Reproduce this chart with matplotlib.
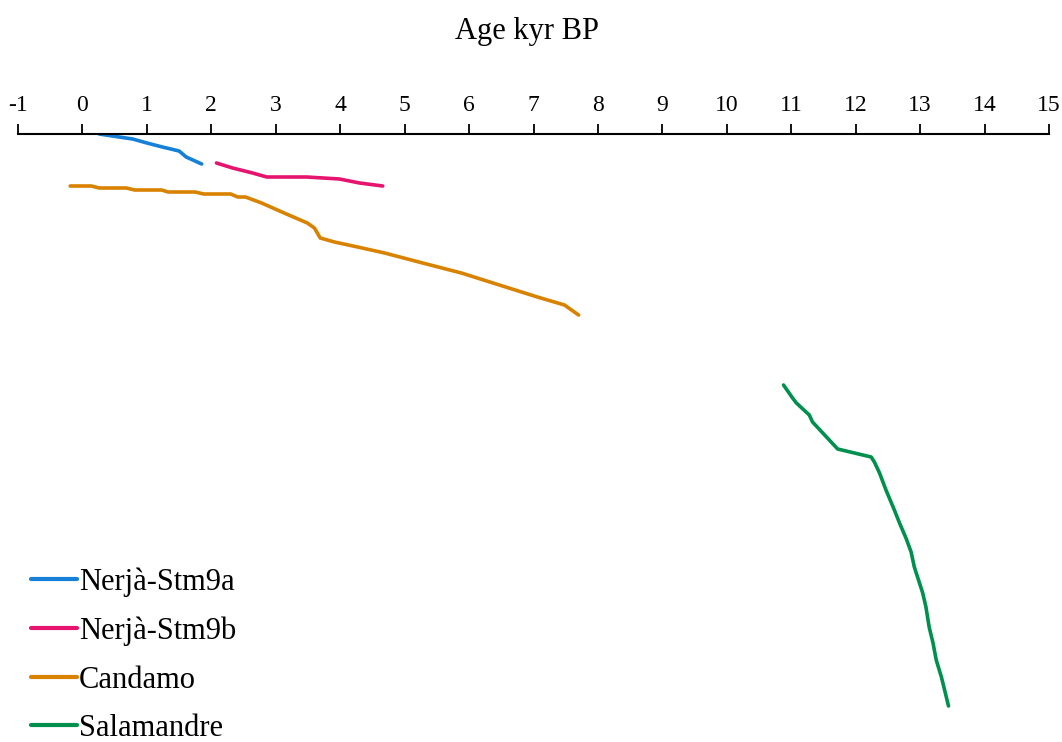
import numpy as np
import matplotlib
matplotlib.use("Agg")
import matplotlib.pyplot as plt

# age (kyr BP) vs depth (arbitrary depth units, increasing downward)
nerja_a_age = [0.26, 0.57, 0.78, 1.00, 1.24, 1.50, 1.61, 1.85]
nerja_a_depth = [0, 3, 5, 9, 13, 17, 23, 30]

nerja_b_age = [2.08, 2.33, 2.64, 2.86, 3.48, 3.99, 4.30, 4.66]
nerja_b_depth = [29, 34, 39, 43, 43, 45, 49, 52]

candamo_age = [-0.19, 0.14, 0.26, 0.68, 0.81, 1.23, 1.33, 1.75, 1.88, 2.30,
               2.41, 2.53, 2.78, 3.13, 3.49, 3.60, 3.69, 3.91, 4.27, 4.69,
               5.28, 5.88, 6.47, 7.06, 7.48, 7.70]
candamo_depth = [52, 52, 54, 54, 56, 56, 58, 58, 60, 60,
                 63, 63, 69, 79, 89, 94, 104, 108, 113, 119,
                 129, 139, 151, 163, 171, 181]

salamandre_age = [10.88, 11.02, 11.08, 11.28, 11.33, 11.72, 12.24, 12.29,
                  12.37, 12.47, 12.60, 12.68, 12.78, 12.86, 12.91, 12.99,
                  13.04, 13.09, 13.14, 13.20, 13.25, 13.33, 13.38, 13.44]
salamandre_depth = [251, 264, 269, 281, 288, 315, 323, 328,
                    339, 356, 376, 389, 404, 418, 433, 449,
                    459, 473, 493, 509, 526, 543, 556, 572]

series = [
    ("Nerjà-Stm9a", nerja_a_age, nerja_a_depth, "#1480D8"),
    ("Nerjà-Stm9b", nerja_b_age, nerja_b_depth, "#E6146E"),
    ("Candamo", candamo_age, candamo_depth, "#D98200"),
    ("Salamandre", salamandre_age, salamandre_depth, "#00904E"),
]

plt.rcParams['font.family'] = ['Liberation Serif', 'DejaVu Serif']
plt.rcParams['axes.unicode_minus'] = False

fig = plt.figure(figsize=(10.62, 7.42), dpi=100)
ax = fig.add_axes([18 / 1062, 0.0, (1049 - 18) / 1062, (742 - 134) / 742])

for name, age, depth, col in series:
    ax.plot(age, depth, color=col, lw=2.6, label=name, solid_capstyle='round')

ax.set_xlim(-1, 15)
ax.set_ylim(608, 0)
ax.set_xticks(np.arange(-1, 16, 1))
ax.xaxis.tick_top()
ax.tick_params(axis='x', direction='out', length=7, width=1.3, pad=6,
               labelsize=17, colors='black')
ax.set_yticks([])
for side in ['left', 'right', 'bottom']:
    ax.spines[side].set_visible(False)
ax.spines['top'].set_linewidth(1.5)

fig.text(0.496, 1 - 31 / 742, "Age kyr BP", ha='center', va='center', fontsize=22)

leg = fig.legend(loc='lower left', bbox_to_anchor=(0.018, -0.018), frameon=False,
                 fontsize=22, handlelength=1.5, handletextpad=0.05,
                 labelspacing=0.64, borderaxespad=0)
for h in leg.legend_handles:
    h.set_linewidth(3)

fig.savefig("out.png", dpi=100)
